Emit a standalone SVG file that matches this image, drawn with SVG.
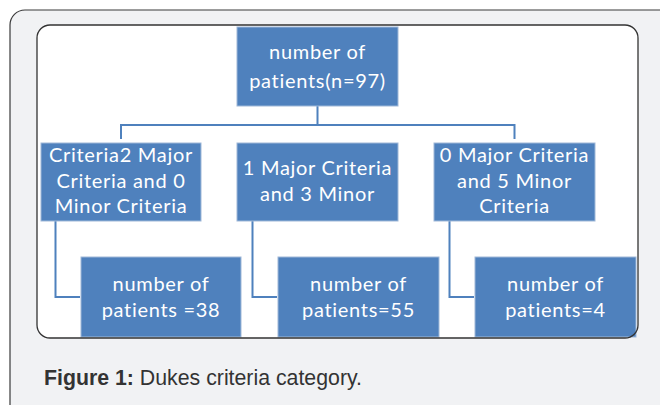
<svg xmlns="http://www.w3.org/2000/svg" width="660" height="405" viewBox="0 0 660 405">
<style>
.box{fill:#4f81bd;stroke:#9fb8d8;stroke-width:1}
.t{font-family:Lato,"Open Sans",sans-serif;font-size:20px;letter-spacing:0.7px;fill:#ffffff;text-anchor:middle}
.conn{fill:none;stroke:#4f81bd;stroke-width:2}
.cap{font-family:"Liberation Sans",Arial,sans-serif;font-size:21.3px;fill:#333333}
</style>
<rect x="10" y="10" width="668" height="410" rx="15" ry="15" fill="#f1f2f4" stroke="#3a3a3a" stroke-width="1.2"/>
<rect x="37" y="25" width="601" height="313" rx="13" ry="13" fill="#ffffff" stroke="none"/>
<g id="connectors">
<path class="conn" d="M317.5 106V125M121 139V125H514.5V139"/>
<path class="conn" d="M55.5 221V297H80"/>
<path class="conn" d="M252.5 221V297H277"/>
<path class="conn" d="M449.5 221V297H474"/>
</g>
<g id="root">
<rect class="box" x="237" y="27" width="161" height="79"/>
<text class="t" x="317.5" y="59">number of</text>
<text class="t" x="317.5" y="88">patients(n=97)</text>
</g>
<g id="cat1">
<rect class="box" x="41" y="143" width="160" height="78"/>
<text class="t" x="121" y="162">Criteria2 Major</text>
<text class="t" x="121" y="188">Criteria and 0</text>
<text class="t" x="121" y="213">Minor Criteria</text>
</g>
<g id="cat2">
<rect class="box" x="237" y="143" width="161" height="78"/>
<text class="t" x="317.5" y="175">1 Major Criteria</text>
<text class="t" x="317.5" y="201">and 3 Minor</text>
</g>
<g id="cat3">
<rect class="box" x="434" y="143" width="161" height="78"/>
<text class="t" x="514.5" y="162">0 Major Criteria</text>
<text class="t" x="514.5" y="188">and 5 Minor</text>
<text class="t" x="514.5" y="213">Criteria</text>
</g>
<g id="n1">
<rect class="box" x="81" y="257" width="160" height="80"/>
<text class="t" x="161" y="291">number of</text>
<text class="t" x="161" y="317">patients =38</text>
</g>
<g id="n2">
<rect class="box" x="278" y="257" width="161" height="80"/>
<text class="t" x="358.5" y="291">number of</text>
<text class="t" x="358.5" y="317">patients=55</text>
</g>
<g id="n3">
<rect class="box" x="475" y="257" width="161" height="80"/>
<text class="t" x="555.5" y="291">number of</text>
<text class="t" x="555.5" y="317">patients=4</text>
</g>
<rect x="37" y="25" width="601" height="313" rx="13" ry="13" fill="none" stroke="#333333" stroke-width="1.3"/>
<text class="cap" x="44" y="385"><tspan font-weight="bold">Figure 1:</tspan> Dukes criteria category.</text>
</svg>
